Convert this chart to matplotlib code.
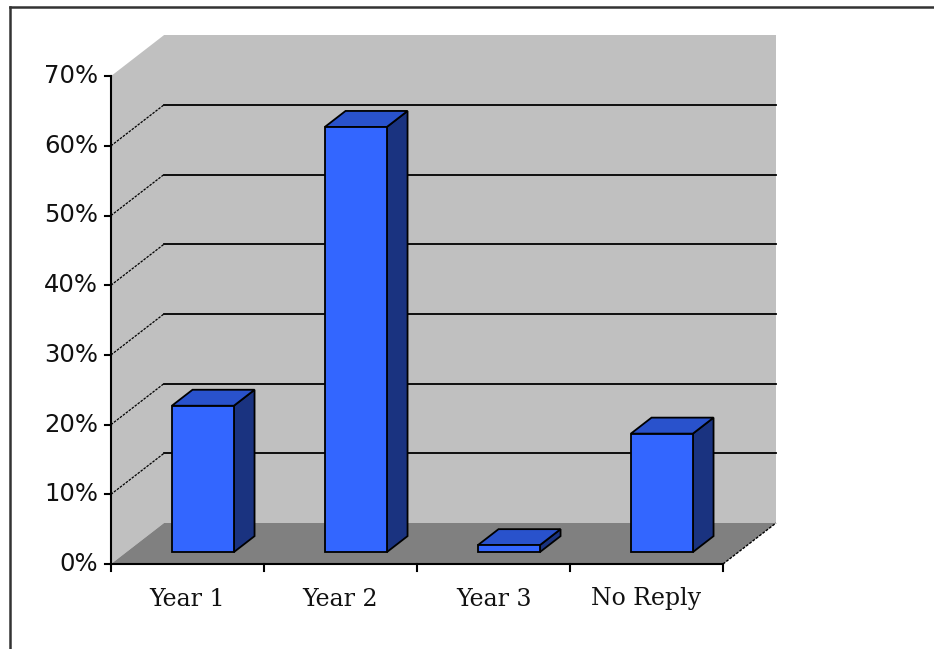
import matplotlib
matplotlib.use("Agg")
import matplotlib.pyplot as plt
from matplotlib.patches import Polygon
from matplotlib.lines import Line2D

categories = ["Year 1", "Year 2", "Year 3", "No Reply"]
values = [0.21, 0.61, 0.01, 0.17]
yticks = [0.0, 0.1, 0.2, 0.3, 0.4, 0.5, 0.6, 0.7]
ytick_labels = ["0%", "10%", "20%", "30%", "40%", "50%", "60%", "70%"]

W, H = 934, 649
fig = plt.figure(figsize=(W / 100, H / 100), dpi=100)
ax = fig.add_axes([0, 0, 1, 1])
ax.set_axis_off()

# pixel geometry of the front plane
X0, XPC = 111, 153.0      # px of category 0, px per category
Y0, YPV = 85, 697.0       # px (from bottom) of value 0, px per unit value
ax.set_xlim(-X0 / XPC, (W - X0) / XPC)
ax.set_ylim(-Y0 / YPV, (H - Y0) / YPV)

DX = 53 / XPC
DY = 41 / YPV
n = len(categories)
vmax = yticks[-1]


def P(c, v, d):
    return (c + d * DX, v + d * DY)


wall = "#C0C0C0"
floor = "#808080"
# back wall
ax.add_patch(Polygon([P(0, 0, 1), P(n, 0, 1), P(n, vmax, 1), P(0, vmax, 1)],
                     closed=True, fc=wall, ec="none", zorder=1))
# left wall
ax.add_patch(Polygon([P(0, 0, 0), P(0, 0, 1), P(0, vmax, 1), P(0, vmax, 0)],
                     closed=True, fc=wall, ec="none", zorder=1))
# floor
ax.add_patch(Polygon([P(0, 0, 0), P(n, 0, 0), P(n, 0, 1), P(0, 0, 1)],
                     closed=True, fc=floor, ec="none", zorder=2))
# right floor edge
xs, ys = zip(P(n, 0, 0), P(n, 0, 1))
ax.plot(xs, ys, color="black", lw=1.0, ls=(0, (2, 1)), zorder=3)

# gridlines
for v in yticks[1:-1]:
    xs, ys = zip(P(0, v, 1), P(n, v, 1))
    ax.plot(xs, ys, color="black", lw=1.3, zorder=3)
    xs, ys = zip(P(0, v, 0), P(0, v, 1))
    ax.plot(xs, ys, color="black", lw=0.9, ls=(0, (2, 1)), zorder=3)

# bars
front_c, top_c, side_c = "#3366FF", "#2952CC", "#1A3380"
hw = 0.2026
d0, d1 = 0.29, 0.68
for i, v in enumerate(values):
    cx = i + 0.5
    l, r = cx - hw, cx + hw
    front = [P(l, 0, d0), P(r, 0, d0), P(r, v, d0), P(l, v, d0)]
    top = [P(l, v, d0), P(r, v, d0), P(r, v, d1), P(l, v, d1)]
    side = [P(r, 0, d0), P(r, 0, d1), P(r, v, d1), P(r, v, d0)]
    for poly, col in ((side, side_c), (top, top_c), (front, front_c)):
        ax.add_patch(Polygon(poly, closed=True, fc=col, ec="black", lw=1.3,
                             joinstyle="miter", zorder=5))

# axes lines
xs, ys = zip(P(0, 0, 0), P(0, vmax, 0))
ax.plot(xs, ys, color="black", lw=1.5, zorder=6)
xs, ys = zip(P(0, 0, 0), P(n, 0, 0))
ax.plot(xs, ys, color="black", lw=1.5, zorder=6)
tick_len_x = 6 / XPC
tick_len_y = 7 / YPV
for v, lab in zip(yticks, ytick_labels):
    ax.plot([-tick_len_x, 0], [v, v], color="black", lw=1.5, zorder=6)
    ax.text(-13 / XPC, v, lab, ha="right", va="center",
            fontsize=17.5, family="DejaVu Sans", color="#111111")
for i in range(n + 1):
    ax.plot([i, i], [0, -tick_len_y], color="black", lw=1.5, zorder=6)
for i, lab in enumerate(categories):
    ax.text(i + 0.5, -35 / YPV, lab, ha="center", va="center",
            fontsize=17, family="DejaVu Serif", color="#111111")

# outer frame (left and top only visible)
fig.add_artist(Line2D([10 / W, 10 / W], [0, 1 - 7 / H], transform=fig.transFigure,
                      color="#333333", lw=1.8))
fig.add_artist(Line2D([10 / W, 1], [1 - 7 / H, 1 - 7 / H], transform=fig.transFigure,
                      color="#333333", lw=1.8))

fig.savefig("out.png", dpi=100)
